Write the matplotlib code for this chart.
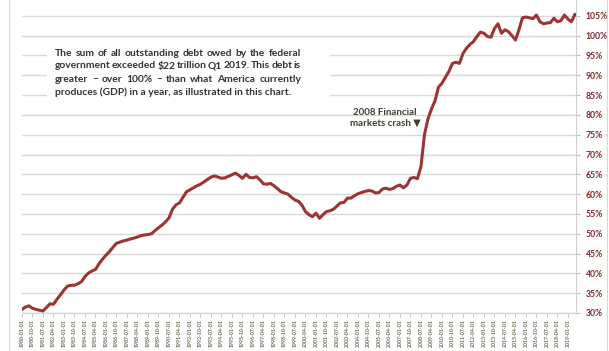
import matplotlib
matplotlib.use("Agg")
import matplotlib.pyplot as plt
from matplotlib.lines import Line2D
from matplotlib.patches import Rectangle
import pandas as pd

# Federal debt as % of GDP, quarterly, 1980Q1 - 2019Q3
debt_pct_gdp = [
    30.9, 31.5, 31.8, 31.2,   # 1980
    30.9, 30.7, 30.5, 31.4,   # 1981
    32.3, 32.2, 33.5, 34.6,   # 1982
    35.8, 36.8, 37.0, 37.0,   # 1983
    37.4, 37.9, 39.2, 40.1,   # 1984
    40.6, 41.0, 42.4, 43.6,   # 1985
    44.6, 45.5, 46.6, 47.6,   # 1986
    47.9, 48.2, 48.4, 48.7,   # 1987
    48.9, 49.2, 49.5, 49.7,   # 1988
    49.8, 50.0, 50.8, 51.5,   # 1989
    52.2, 53.0, 54.0, 56.2,   # 1990
    57.3, 57.8, 59.2, 60.6,   # 1991
    61.1, 61.6, 62.1, 62.5,   # 1992
    63.1, 63.7, 64.3, 64.6,   # 1993
    64.3, 64.0, 64.1, 64.5,   # 1994
    64.9, 65.3, 64.7, 64.0,   # 1995
    65.0, 64.2, 64.1, 64.4,   # 1996
    63.6, 62.6, 62.5, 62.7,   # 1997
    62.1, 61.4, 60.6, 60.3,   # 1998
    60.0, 59.2, 58.5, 58.2,   # 1999
    57.2, 55.6, 54.8, 54.3,   # 2000
    55.2, 53.9, 54.8, 55.6,   # 2001
    55.8, 56.2, 57.0, 57.8,   # 2002
    57.9, 59.0, 59.0, 59.6,   # 2003
    60.1, 60.4, 60.7, 60.9,   # 2004
    60.8, 60.3, 60.4, 61.3,   # 2005
    61.5, 61.2, 61.4, 62.0,   # 2006
    62.3, 61.6, 62.3, 64.0,   # 2007
    64.2, 63.9, 67.0, 75.0,   # 2008
    79.0, 81.5, 83.5, 87.0,   # 2009
    88.0, 89.5, 91.0, 93.0,   # 2010
    93.3, 93.0, 95.5, 96.8,   # 2011
    97.8, 98.5, 99.8, 100.9,  # 2012
    100.6, 99.8, 99.6, 101.8, # 2013
    103.0, 100.6, 101.5, 101.0,  # 2014
    100.0, 98.9, 101.5, 104.5,   # 2015
    104.7, 104.5, 104.3, 105.2,  # 2016
    103.5, 103.0, 103.2, 103.3,  # 2017
    104.4, 103.5, 103.8, 105.2,  # 2018
    104.2, 103.5, 105.4,         # 2019
]
quarters = pd.date_range("1980-01-01", periods=len(debt_pct_gdp), freq="QS")
quarter_labels = [d.strftime("%Y-%m-%d") for d in quarters]
label_step = 3

y_ticks = list(range(30, 110, 5))

note_lines = [
    "The sum of all outstanding debt owed by the federal",
    "government exceeded $22 trillion Q1 2019. This debt is",
    "greater \u2013 over 100% \u2013 than what America currently",
    "produces (GDP) in a year, as illustrated in this chart.",
]
crash_label = "2008 Financial\nmarkets crash \u25bc"

W, H = 609, 351
fig = plt.figure(figsize=(W / 100, H / 100), dpi=100)
fig.patch.set_facecolor("white")

ax = fig.add_axes([22 / W, (H - 313) / H, 554 / W, 313 / H])
x = list(range(len(debt_pct_gdp)))

ax.plot(x, debt_pct_gdp, color="#9b3535", lw=2.2, solid_capstyle="round", zorder=4)

ax.set_xlim(0, len(debt_pct_gdp) - 1 + 0.3)
ax.set_ylim(30, 109)

ax.set_yticks(y_ticks)
ax.set_yticklabels([f"{v}%" for v in y_ticks])
ax.yaxis.tick_right()
ax.grid(axis="y", color="#d9d9d9", lw=1.0, zorder=0)
ax.tick_params(axis="y", length=3, width=0.8, color="#bfbfbf", pad=4,
               labelsize=6.2, labelcolor="#7b2b2b")
for lbl in ax.get_yticklabels():
    lbl.set_fontfamily(["Lato", "DejaVu Sans"])
    lbl.set_fontweight("bold")

ticks = x[::label_step]
ax.set_xticks(ticks)
ax.set_xticklabels(quarter_labels[::label_step], rotation=90)
ax.tick_params(axis="x", length=3, width=0.6, color="#bfbfbf", pad=1.5,
               labelsize=3.7, labelcolor="#6a6a58")
for lbl in ax.get_xticklabels():
    lbl.set_fontfamily(["Lato", "DejaVu Sans"])
    lbl.set_fontweight("bold")

for side in ["top", "left"]:
    ax.spines[side].set_visible(False)
ax.spines["right"].set_color("#d0d0d0")
ax.spines["bottom"].set_color("#d9d9d9")
ax.spines["bottom"].set_linewidth(1.0)

# white panel behind the note so gridlines stop at its edges
ax.add_patch(Rectangle((47, H - 105), 283, 65, transform=None,
                       facecolor="white", edgecolor="none", zorder=2))

# justified note text
renderer = fig.canvas.get_renderer()
left_px, right_px = 55, 301
line_y = [53, 66, 79, 92]
note_style = dict(fontsize=7.4, color="#333333", fontweight="bold",
                  family=["Lato", "DejaVu Sans"], va="center", ha="left", zorder=5)
for i, line in enumerate(note_lines):
    words = line.split(" ")
    yf = 1 - line_y[i] / H
    if i == len(note_lines) - 1:
        fig.text(left_px / W, yf, line, **note_style)
        continue
    texts = [fig.text(0, yf, w, **note_style) for w in words]
    widths = [t.get_window_extent(renderer).width for t in texts]
    gap = (right_px - left_px - sum(widths)) / (len(words) - 1)
    pos = left_px
    for t, w in zip(texts, widths):
        t.set_x(pos / W)
        pos += w + gap

fig.text(385 / W, 1 - 118 / H, crash_label, ha="center", va="center",
         fontsize=7, color="#3f3f30", fontweight="bold",
         family=["Lato", "DejaVu Sans"], linespacing=1.3)

# chart frame edges
for xp in (9, 607):
    fig.add_artist(Line2D([xp / W, xp / W], [0, 1], color="#d9d9d9", lw=0.8))

fig.savefig("out.png", dpi=100)
